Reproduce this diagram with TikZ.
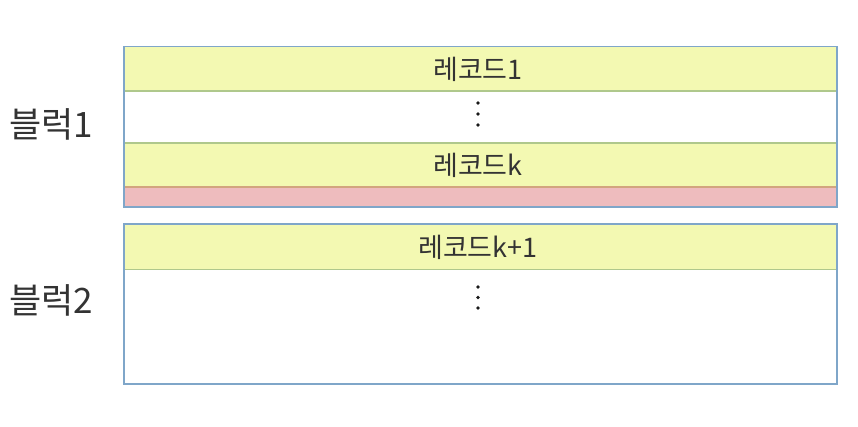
\documentclass[tikz,border=0pt]{standalone}
\usepackage{fontspec}
\newfontfamily\kr{Noto Sans CJK KR}
\definecolor{recfill}{HTML}{F3F9B2}
\definecolor{recline}{HTML}{AFC88C}
\definecolor{padfill}{HTML}{EEBCBE}
\definecolor{padline}{HTML}{D2A57E}
\definecolor{blkline}{HTML}{7FA6C9}
\definecolor{txt}{HTML}{333333}
\tikzset{
  rec/.style={fill=recfill, draw=recline, line width=1.2pt},
  pad/.style={fill=padfill, draw=padline, line width=1.2pt},
  blk/.style={draw=blkline, line width=1.8pt},
  rectext/.style={text=txt, font=\kr\fontsize{27}{30}\selectfont, inner sep=0pt},
  blktext/.style={text=txt, font=\kr\fontsize{35}{38}\selectfont, inner sep=0pt},
  dot/.style={circle, fill=black!90, inner sep=0pt, minimum size=3.6pt}
}
\begin{document}
\begin{tikzpicture}[x=1pt,y=-1pt]
\useasboundingbox (0,0) rectangle (858,426);
\fill[white] (0,0) rectangle (858,426);
% block 1
\draw[rec] (124,46.5) rectangle (837,91);
\draw[rec] (124,143) rectangle (837,187);
\draw[pad] (124,187) rectangle (837,207);
\draw[blk] (124,46.5) rectangle (837,207);
% block 2
\draw[rec] (124,224) rectangle (837,269.5);
\draw[blk] (124,224) rectangle (837,384);
% texts
\node[rectext] (r1) at (478,69) {레코드1};
\node[rectext] (rk) at (478,165.5) {레코드k};
\node[rectext] (rk1) at (478,247) {레코드k+1};
\node[blktext] (b1) at (51,124) {블럭1};
\node[blktext] (b2) at (51,300) {블럭2};
% dots
\node[dot] (d11) at (478,103) {};
\node[dot] (d12) at (478,114) {};
\node[dot] (d13) at (478,125) {};
\node[dot] (d21) at (478,287) {};
\node[dot] (d22) at (478,297.5) {};
\node[dot] (d23) at (478,308) {};
\end{tikzpicture}
\end{document}
